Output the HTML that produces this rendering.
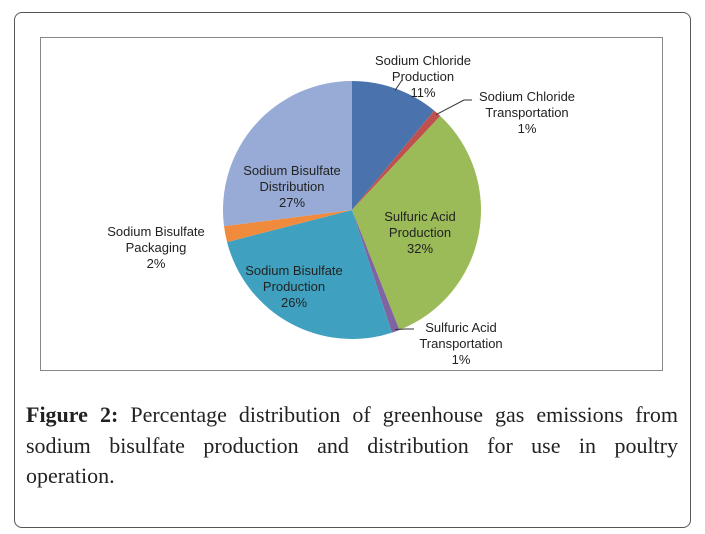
<!DOCTYPE html>
<html><head><meta charset="utf-8"><style>
body{margin:0;width:705px;height:534px;background:#fff;position:relative;overflow:hidden}
#outer{position:absolute;left:14px;top:12px;width:675px;height:514px;border:1px solid #555;border-radius:8px}
#chartbox{position:absolute;left:40px;top:37px;width:621px;height:332px;border:1px solid #888}
#cap{position:absolute;left:26px;top:400px;width:652px;font-family:"Liberation Serif",serif;font-size:22px;line-height:30.5px;color:#222}
#cap div{text-align:justify;text-align-last:justify;white-space:nowrap}
#cap div.last{text-align-last:left}
svg text{font-family:"Liberation Sans",sans-serif;font-size:13px;fill:#222}
</style></head><body>
<div id="outer"></div>
<div id="chartbox"></div>
<svg id="pie" width="705" height="534" style="position:absolute;left:0;top:0"></svg>
<div id="cap"><div><b>Figure 2:</b> Percentage distribution of greenhouse gas emissions from</div><div>sodium bisulfate production and distribution for use in poultry</div><div class="last">operation.</div></div>
<script>
const categories=["Sodium Chloride Production","Sodium Chloride Transportation","Sulfuric Acid Production","Sulfuric Acid Transportation","Sodium Bisulfate Production","Sodium Bisulfate Packaging","Sodium Bisulfate Distribution"];
const values=[11,1,32,1,26,2,27];
const colors=["#4a72ac","#c0504d","#9bbb59","#8064a2","#3fa1bf","#f08a3c","#97abd6"];
const labelLines=[["Sodium Chloride","Production","11%"],["Sodium Chloride","Transportation","1%"],["Sulfuric Acid","Production","32%"],["Sulfuric Acid","Transportation","1%"],["Sodium Bisulfate","Production","26%"],["Sodium Bisulfate","Packaging","2%"],["Sodium Bisulfate","Distribution","27%"]];
const labelPos=[[423,65],[527,101],[420,221],[461,332],[294,275],[156,236],[292,175]];
const leaders=[[402,80],[472,100],null,[414,329],null,null,null];
const svg=document.getElementById('pie');const NS="http://www.w3.org/2000/svg";
const cx=352,cy=210,r=129;
const total=values.reduce((a,b)=>a+b,0);
function pt(a,rr){return [cx+rr*Math.sin(a),cy-rr*Math.cos(a)];}
let acc=0;
values.forEach((v,i)=>{
 const a0=acc/total*2*Math.PI;acc+=v;const a1=acc/total*2*Math.PI;
 const p0=pt(a0,r),p1=pt(a1,r);
 const p=document.createElementNS(NS,'path');
 p.setAttribute('d',`M${cx},${cy}L${p0[0]},${p0[1]}A${r},${r} 0 ${a1-a0>Math.PI?1:0} 1 ${p1[0]},${p1[1]}Z`);
 p.setAttribute('fill',colors[i]);
 
 
 svg.appendChild(p);
 if(leaders[i]){
  const m=pt((a0+a1)/2,r-2);const l=document.createElementNS(NS,'polyline');
  const e=leaders[i];
  l.setAttribute('points',`${m[0]},${m[1]} ${e[0]-(i==0?0:8)},${e[1]} ${e[0]},${e[1]}`);
  l.setAttribute('fill','none');l.setAttribute('stroke','#333');l.setAttribute('stroke-width','1');
  
  
  svg.appendChild(l);
 }
});
labelLines.forEach((ls,i)=>{
 const t=document.createElementNS(NS,'text');
 t.setAttribute('text-anchor','middle');
 
 
 ls.forEach((s,j)=>{const ts=document.createElementNS(NS,'tspan');ts.setAttribute('x',labelPos[i][0]);ts.setAttribute('y',labelPos[i][1]+j*16);ts.textContent=s;t.appendChild(ts);});
 svg.appendChild(t);
});
</script>
</body></html>
